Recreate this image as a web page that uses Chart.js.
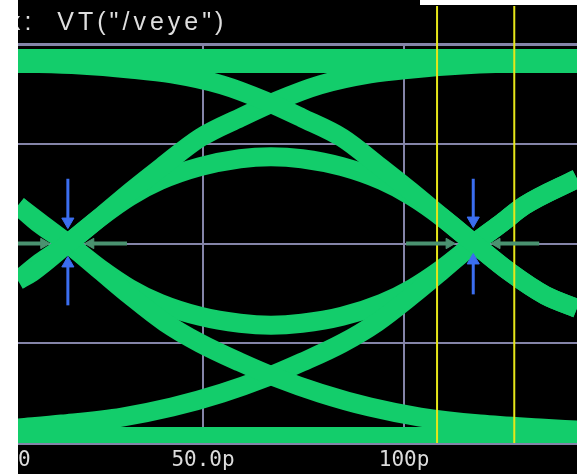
<!DOCTYPE html>
<html>
<head>
<meta charset="utf-8">
<title>VT("/veye") eye diagram</title>
<script src="https://cdn.jsdelivr.net/npm/chart.js@4.4.1/dist/chart.umd.min.js"></script>
<style>
  html, body { margin: 0; padding: 0; background: #fff; }
  body { width: 577px; height: 474px; position: relative; overflow: hidden; }
  #wrap { position: absolute; left: 18px; top: 0; width: 559px; height: 474px; }
  #edge { position: absolute; left: 420px; top: 0; width: 157px; height: 5px; background: #fff; }
</style>
</head>
<body>
<div id="wrap"><canvas id="eye" width="559" height="474"></canvas></div>
<div id="edge"></div>
<script>
// ---- axis set-up (time in ps, level in mV) ----
const titleText = 'x:  VT("/veye")';
const tickValues = [0, 50, 100];
const tickLabels = ['0', '50.0p', '100p'];
const levelTicks = [-400, -200, 0, 200, 400];
const timeRange = [4.0, 143.0];
const levelRange = [-400, 400];

// ---- eye traces ----
// settled high and low levels
const highRailT = [4.0, 143.0];
const highRailV = [366, 366];
const lowRailT = [4.0, 143.0];
const lowRailV = [-386, -386];

// falling edge through the right crossing
const fallRightT = [4.0, 19.4, 31.8, 42.3, 54.7, 65.4, 74.6, 84.6, 94.0, 101.5, 109.0, 117.4, 126.4, 135.1, 143.0];
const fallRightV = [362, 358, 350, 340, 318, 286, 252, 212, 154, 106, 56, 0, -58, -104, -130];

// rising edge through the left crossing
const riseLeftT = [4.0, 7.5, 16.4, 24.9, 32.3, 39.8, 49.3, 59.2, 68.4, 79.1, 91.5, 102.0, 114.4, 129.9, 143.0];
const riseLeftV = [-74, -58, 0, 56, 106, 154, 212, 252, 286, 318, 340, 350, 358, 362, 362];

// falling edge through the left crossing
const fallLeftT = [4.0, 9.5, 16.4, 24.4, 31.8, 40.5, 49.3, 59.2, 67.9, 79.1, 91.5, 104.0, 118.9, 133.8, 143.0];
const fallLeftV = [76, 42, 0, -54, -104, -158, -200, -238, -268, -300, -328, -348, -362, -370, -374];

// rising edge through the right crossing
const riseRightT = [4.0, 14.9, 29.9, 42.3, 54.7, 65.9, 74.6, 84.6, 93.3, 102.0, 109.5, 117.4, 124.4, 129.9, 143.0];
const riseRightV = [-370, -362, -348, -328, -300, -268, -238, -200, -158, -104, -54, 0, 42, 76, 130];

// isolated one (inner upper arc)
const pulseHighT = [4.0, 9.5, 16.4, 24.4, 31.8, 39.3, 49.3, 59.2, 66.9, 74.6, 84.6, 94.5, 102.0, 109.5, 117.4, 126.4, 135.1, 143.0];
const pulseHighV = [-74, -38, 0, 52, 94, 126, 154, 170, 174, 170, 154, 126, 94, 52, 0, -58, -104, -130];

// isolated zero (inner lower arc)
const pulseLowT = [4.0, 9.5, 16.4, 24.4, 31.8, 39.3, 49.3, 59.2, 66.9, 74.6, 84.6, 94.5, 102.0, 109.5, 117.4, 124.4, 129.9, 143.0];
const pulseLowV = [76, 38, 0, -50, -90, -120, -146, -160, -164, -160, -146, -120, -90, -50, 0, 42, 76, 130];

// ---- annotations ----
// vertical markers at the crossings (blue)
const crossMarkT = [16.4, 16.4, 117.2, 117.2];
const crossMarkFrom = [130, -124, 130, -102];
const crossMarkTo = [44, -40, 46, -34];

// horizontal markers at the crossing level
const levelMarkFrom = [4.0, 31.1, 100.5, 133.6];
const levelMarkTo = [10.4, 22.1, 111.2, 123.1];
const levelMarkV = [0, 0, 0, 0];

// cursors
const cursorT = [108.2, 127.4];
const cursorSpan = [-400, 476];

// ---- styling ----
const GREEN = '#13cd6b';
const BLUE = '#3b6ef0';
const MARK_GREEN = '#4a9270';
const YELLOW = '#e6e619';
const GRID = '#8484a8';

const zip = (t, v) => t.map((x, i) => ({ x, y: v[i] }));

function trace(t, v, width) {
  return {
    type: 'line', data: zip(t, v),
    borderColor: GREEN, borderWidth: width,
    pointRadius: 0, cubicInterpolationMode: 'monotone',
    clip: 0, order: 3
  };
}

function arrow(t0, v0, t1, v1, color, width, headRadius, rotation) {
  return {
    type: 'line',
    data: [{ x: t0, y: v0 }, { x: t1, y: v1 }],
    borderColor: color, borderWidth: width,
    pointStyle: [false, 'triangle'],
    pointRadius: [0, headRadius],
    pointRotation: [0, rotation],
    pointBackgroundColor: color, pointBorderColor: color, pointBorderWidth: 1,
    clip: false, order: 1
  };
}

const datasets = [
  trace(highRailT, highRailV, 24),
  trace(lowRailT, lowRailV, 18),
  trace(fallRightT, fallRightV, 19),
  trace(riseLeftT, riseLeftV, 19),
  trace(fallLeftT, fallLeftV, 19),
  trace(riseRightT, riseRightV, 19),
  trace(pulseHighT, pulseHighV, 19),
  trace(pulseLowT, pulseLowV, 19)
];

cursorT.forEach(t => datasets.push({
  type: 'line',
  data: [{ x: t, y: cursorSpan[0] }, { x: t, y: cursorSpan[1] }],
  borderColor: YELLOW, borderWidth: 2, pointRadius: 0,
  clip: false, order: 2
}));

crossMarkT.forEach((t, i) => datasets.push(
  arrow(t, crossMarkFrom[i], t, crossMarkTo[i], BLUE, 3, 7,
        crossMarkFrom[i] > crossMarkTo[i] ? 180 : 0)
));

levelMarkFrom.forEach((t, i) => datasets.push(
  arrow(t, levelMarkV[i], levelMarkTo[i], levelMarkV[i], MARK_GREEN, 4, 6,
        levelMarkTo[i] > t ? 90 : 270)
));

const TICK_FONT = { family: '"DejaVu Sans Mono", "Liberation Mono", monospace', size: 21 };
const TICK_PAD = 5;

// black backdrop, title line and the origin label that sits just left of the visible range
const scopeFrame = {
  id: 'scopeFrame',
  beforeDraw(chart) {
    const { ctx, width, height } = chart;
    ctx.save();
    ctx.fillStyle = '#000';
    ctx.fillRect(0, 0, width, height);
    ctx.font = '25px "Liberation Sans", Arial, sans-serif';
    ctx.fillStyle = '#dedede';
    if ('letterSpacing' in ctx) ctx.letterSpacing = '4px';
    ctx.textBaseline = 'alphabetic';
    ctx.textAlign = 'left';
    ctx.fillText(titleText, -10, 30);
    ctx.restore();
  },
  afterDraw(chart) {
    const s = chart.scales.x;
    if (tickValues[0] >= s.min) return;
    const { ctx } = chart;
    ctx.save();
    ctx.font = TICK_FONT.size + 'px ' + TICK_FONT.family;
    ctx.fillStyle = '#dcdcdc';
    ctx.textAlign = 'left';
    ctx.textBaseline = 'middle';
    ctx.fillText(tickLabels[0], s.left, s.top + TICK_PAD + TICK_FONT.size * 1.2 / 2);
    ctx.restore();
  }
};

new Chart(document.getElementById('eye'), {
  data: { datasets },
  plugins: [scopeFrame],
  options: {
    responsive: false,
    animation: false,
    events: [],
    layout: { autoPadding: false, padding: { top: 44, left: 0, right: 0, bottom: 0 } },
    plugins: { legend: { display: false }, tooltip: { enabled: false }, title: { display: false } },
    scales: {
      x: {
        type: 'linear', position: 'bottom',
        min: timeRange[0], max: timeRange[1],
        afterBuildTicks: s => { s.ticks = tickValues.filter(v => v >= s.min && v <= s.max).map(v => ({ value: v })); },
        afterFit: s => { s.height = 31; },
        ticks: {
          color: '#dcdcdc', font: TICK_FONT, padding: TICK_PAD,
          maxRotation: 0, autoSkip: false,
          callback: v => tickLabels[tickValues.indexOf(v)]
        },
        grid: { color: GRID, lineWidth: 2, drawTicks: false },
        border: { display: false }
      },
      y: {
        type: 'linear',
        min: levelRange[0], max: levelRange[1],
        afterBuildTicks: s => { s.ticks = levelTicks.map(v => ({ value: v })); },
        afterFit: s => { s.width = 0; },
        ticks: { display: false },
        grid: {
          color: GRID, drawTicks: false,
          lineWidth: c => (c.tick && Math.abs(c.tick.value) === levelRange[1]) ? 3 : 2
        },
        border: { display: false }
      }
    }
  }
});
</script>
</body>
</html>
